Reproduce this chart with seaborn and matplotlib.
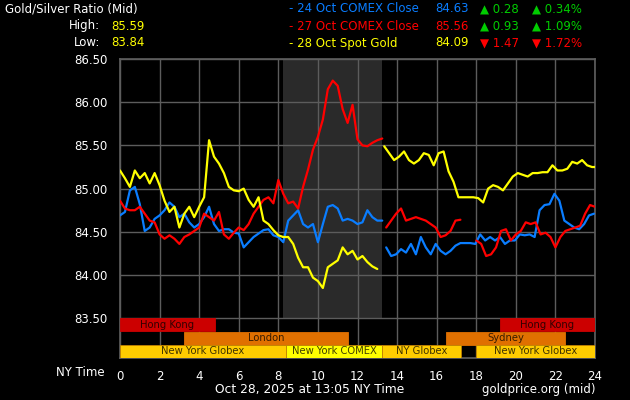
import numpy as np
import pandas as pd
import seaborn as sns
import matplotlib.pyplot as plt

STEP = 0.25  # hours between readings

# 24 Oct COMEX Close (blue)
blue_a_start = 0.0
blue_a = [84.69, 84.73, 84.98, 85.02, 84.82, 84.51, 84.55, 84.65, 84.69, 84.75, 84.84, 84.79, 84.67,
          84.71, 84.61, 84.55, 84.59, 84.67, 84.79, 84.59, 84.51, 84.53, 84.53, 84.49, 84.48,
          84.32, 84.38, 84.44, 84.48, 84.52, 84.53, 84.46, 84.44, 84.38, 84.63, 84.69, 84.75,
          84.59, 84.55, 84.59, 84.38, 84.59, 84.79, 84.81, 84.77, 84.63, 84.65, 84.63, 84.59,
          84.61, 84.75, 84.67, 84.63, 84.63]
blue_b_start = 13.45
blue_b = [84.32, 84.22, 84.24, 84.30, 84.26, 84.36, 84.24, 84.44, 84.32, 84.24, 84.36, 84.28,
          84.24, 84.28, 84.34, 84.37, 84.37, 84.37,
          84.36, 84.47, 84.40, 84.44, 84.40, 84.44, 84.36, 84.40, 84.40, 84.47, 84.46, 84.47,
          84.44, 84.75, 84.81, 84.82, 84.94, 84.86, 84.63, 84.59, 84.55, 84.53, 84.59, 84.69, 84.71]

# 27 Oct COMEX Close (red)
red_a_start = 0.0
red_a = [84.86, 84.77, 84.75, 84.75, 84.79, 84.71, 84.63, 84.61, 84.47, 84.42, 84.46, 84.42, 84.36,
         84.44, 84.47, 84.51, 84.55, 84.71, 84.67, 84.63, 84.73, 84.47, 84.42, 84.49, 84.55,
         84.52, 84.59, 84.71, 84.79, 84.87, 84.90, 84.83, 85.10, 84.94, 84.83, 84.85, 84.77,
         85.02, 85.22, 85.45, 85.60, 85.80, 86.15, 86.25, 86.19, 85.92, 85.76, 85.97, 85.57,
         85.50, 85.49, 85.53, 85.56, 85.58]
red_b_start = 13.45
red_b = [84.55, 84.63, 84.71, 84.77, 84.63, 84.65, 84.67, 84.65, 84.63, 84.59, 84.55, 84.44,
         84.46, 84.51, 84.63, 84.64]
red_c_start = 18.0
red_c = [84.40, 84.36, 84.22, 84.24, 84.32, 84.51, 84.53, 84.40, 84.47, 84.51, 84.61, 84.59,
         84.61, 84.47, 84.49, 84.44, 84.32, 84.44, 84.51, 84.53, 84.55, 84.57, 84.71, 84.81, 84.79]

# 28 Oct Spot Gold (yellow)
yellow_a_start = 0.0
yellow_a = [85.21, 85.12, 85.02, 85.21, 85.12, 85.18, 85.06, 85.18, 85.04, 84.86, 84.73, 84.79,
            84.55, 84.71, 84.79, 84.67, 84.79, 84.90, 85.56, 85.37, 85.29, 85.18, 85.02, 84.98, 84.97,
            85.00, 84.87, 84.79, 84.90, 84.63, 84.59, 84.52, 84.46, 84.44, 84.44, 84.36, 84.20,
            84.09, 84.09, 83.97, 83.93, 83.85, 84.09, 84.13, 84.17, 84.32, 84.24, 84.28, 84.18,
            84.22, 84.15, 84.10, 84.07]
yellow_b_start = 13.35
yellow_b = [85.49, 85.41, 85.33, 85.37, 85.43, 85.33, 85.29, 85.33, 85.41, 85.39, 85.27, 85.41,
            85.43, 85.20, 85.08, 84.90, 84.90, 84.90, 84.90,
            84.89, 84.84, 85.00, 85.04, 85.02, 84.98, 85.06, 85.14, 85.18, 85.16, 85.14, 85.18,
            85.18, 85.19, 85.19, 85.27, 85.21, 85.21, 85.23, 85.31, 85.29, 85.33, 85.27, 85.25, 85.25]

# trading sessions
sess_names = ["Hong Kong", "Hong Kong", "London", "Sydney", "New York Globex", "New York COMEX",
              "NY Globex", "New York Globex"]
sess_start = [0.0, 19.2, 3.23, 16.45, 0.0, 8.37, 13.25, 18.0]
sess_end = [4.8, 24.0, 11.53, 22.5, 8.37, 13.25, 17.25, 24.0]
sess_row = [0, 0, 1, 1, 2, 2, 2, 2]
sess_color = ["#cc0000", "#cc0000", "#e07000", "#e07000", "#ffcc00", "#ffff00", "#ffcc00", "#ffcc00"]
row_bottom = [83.35, 83.195, 83.045]
row_height = 0.148

comex_open, comex_close = 8.25, 13.22

BLUE = "#0a7dff"
RED = "#ff0000"
YELLOW = "#ffff00"
GREEN = "#00cc00"
GRID = "#5c5c5c"

sns.set_theme(style="dark", rc={
    "figure.facecolor": "black", "axes.facecolor": "black", "axes.edgecolor": GRID,
    "grid.color": GRID, "text.color": "white", "xtick.color": "white", "ytick.color": "white",
})
plt.rcParams["font.family"] = ["DejaVu Sans"]

fig = plt.figure(figsize=(6.3, 4.0), dpi=100)
ax = fig.add_axes([120 / 630, 1 - 358 / 400, 475 / 630, 299 / 400])

ax.axvspan(comex_open, comex_close, ymin=(83.5 - 83.04) / (86.5 - 83.04), ymax=1,
           color="#2a2a2a", lw=0, zorder=0)
ax.grid(True, color=GRID, lw=1.0, zorder=1)
ax.set_axisbelow(True)


def seg(start, vals):
    return pd.DataFrame({"hour": start + STEP * np.arange(len(vals)), "ratio": vals})


for start, vals, col in [(blue_a_start, blue_a, BLUE), (blue_b_start, blue_b, BLUE),
                         (red_a_start, red_a, RED), (red_b_start, red_b, RED), (red_c_start, red_c, RED),
                         (yellow_a_start, yellow_a, YELLOW), (yellow_b_start, yellow_b, YELLOW)]:
    sns.lineplot(data=seg(start, vals), x="hour", y="ratio", color=col, lw=1.6, ax=ax, zorder=3)

for name, s, e, r, c in zip(sess_names, sess_start, sess_end, sess_row, sess_color):
    ax.barh(row_bottom[r], e - s, left=s, height=row_height, align="edge", color=c,
            edgecolor="#c08000" if r == 2 else c, lw=0.6, zorder=4)
    ax.text((s + e) / 2, row_bottom[r] + row_height / 2, name, ha="center", va="center",
            fontsize=7.2, color="black", alpha=0.75, zorder=5)

ax.set_xlim(0, 24)
ax.set_ylim(83.04, 86.5)
ax.set_xticks(range(0, 25, 2))
ax.set_yticks(np.arange(83.5, 86.51, 0.5))
ax.set_yticklabels([f"{v:.2f}" for v in np.arange(83.5, 86.51, 0.5)])
ax.tick_params(axis="y", length=6, width=1, color=GRID, pad=3, labelsize=8.5)
ax.tick_params(axis="x", length=1, color=GRID, pad=8, labelsize=8.5)
ax.set_xlabel("")
ax.set_ylabel("")
for sp in ax.spines.values():
    sp.set_color(GRID)

def px(x, y, s, **kw):
    fig.text(x / 630, 1 - y / 400, s, va="center", **kw)

px(5, 9, "Gold/Silver Ratio (Mid)", fontsize=8.5, color="white")
px(100, 26, "High:", fontsize=8.5, color="white", ha="right")
px(111, 26, "85.59", fontsize=8.5, color=YELLOW)
px(100, 43, "Low:", fontsize=8.5, color="white", ha="right")
px(111, 43, "83.84", fontsize=8.5, color=YELLOW)

legend_names = ["- 24 Oct COMEX Close", "- 27 Oct COMEX Close", "- 28 Oct Spot Gold"]
legend_colors = [BLUE, RED, YELLOW]
legend_close = ["84.63", "85.56", "84.09"]
legend_chg = ["\u25b2 0.28", "\u25b2 0.93", "\u25bc 1.47"]
legend_pct = ["\u25b2 0.34%", "\u25b2 1.09%", "\u25bc 1.72%"]
legend_chg_color = [GREEN, GREEN, RED]
for i in range(3):
    y = 9 + 17 * i
    px(289, y, legend_names[i], fontsize=8.5, color=legend_colors[i])
    px(469, y, legend_close[i], fontsize=8.5, color=legend_colors[i], ha="right")
    px(480, y, legend_chg[i], fontsize=8.5, color=legend_chg_color[i])
    px(532, y, legend_pct[i], fontsize=8.5, color=legend_chg_color[i])

px(105, 373, "NY Time", fontsize=8.5, color="white", ha="right")
px(310, 389, "Oct 28, 2025 at 13:05 NY Time", fontsize=8.8, color="white", ha="center")
px(595, 389, "goldprice.org (mid)", fontsize=8.5, color="white", ha="right")

fig.savefig("out.png", dpi=100, facecolor="black")
